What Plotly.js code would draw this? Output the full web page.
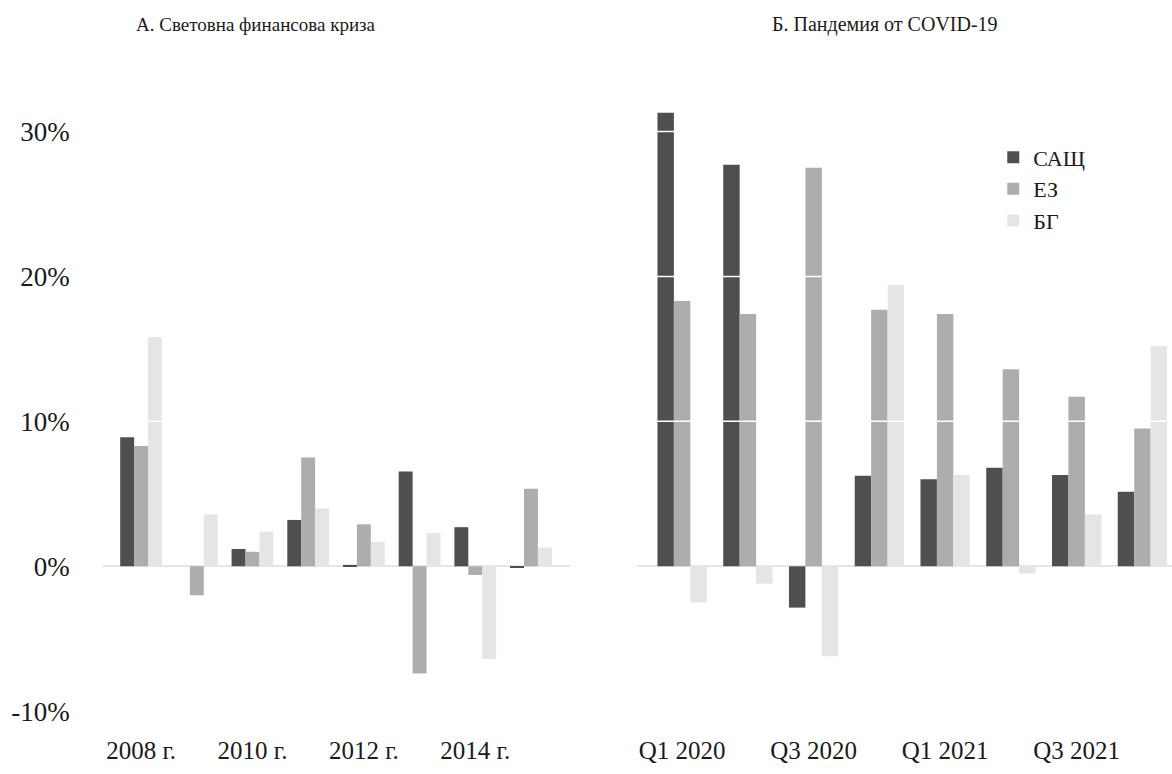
<!DOCTYPE html>
<html>
<head>
<meta charset="utf-8">
<script src="https://cdn.plot.ly/plotly-3.0.1.min.js"></script>
<style>html,body{margin:0;padding:0;background:#fff;}#chart{width:1172px;height:774px;}</style>
</head>
<body>
<div id="chart"></div>
<script>
// ---- Data ----
const seriesNames = ['САЩ', 'ЕЗ', 'БГ'];
const seriesColors = ['#4f4f4f', '#adadad', '#e5e5e5'];

const crisisYears = ['2008 г.', '2009 г.', '2010 г.', '2011 г.', '2012 г.', '2013 г.', '2014 г.', '2015 г.'];
const crisisUS = [8.9, 0, 1.2, 3.2, 0.1, 6.55, 2.7, -0.1];
const crisisEZ = [8.3, -2.0, 1.0, 7.5, 2.9, -7.4, -0.6, 5.35];
const crisisBG = [15.8, 3.6, 2.4, 4.0, 1.7, 2.3, -6.4, 1.3];

const covidQuarters = ['Q1 2020', 'Q2 2020', 'Q3 2020', 'Q4 2020', 'Q1 2021', 'Q2 2021', 'Q3 2021', 'Q4 2021'];
const covidUS = [31.3, 27.7, -2.85, 6.25, 6.0, 6.8, 6.3, 5.15];
const covidEZ = [18.3, 17.4, 27.5, 17.7, 17.4, 13.6, 11.7, 9.5];
const covidBG = [-2.5, -1.2, -6.2, 19.4, 6.3, -0.5, 3.6, 15.2];

const yTickVals = [-10, 0, 10, 20, 30];
const yTickText = ['-10%', '0%', '10%', '20%', '30%'];
const whiteGridVals = [10, 20, 30];

const panelTitles = ['А. Световна финансова криза', 'Б. Пандемия от COVID-19'];

// ---- Traces ----
const crisisSeries = [crisisUS, crisisEZ, crisisBG];
const covidSeries = [covidUS, covidEZ, covidBG];
const traces = [];
seriesNames.forEach((name, i) => {
  traces.push({
    type: 'bar', name: name, x: crisisYears, y: crisisSeries[i],
    xaxis: 'x', yaxis: 'y', marker: {color: seriesColors[i], line: {width: 0}},
    showlegend: false, hoverinfo: 'x+y+name'
  });
});
seriesNames.forEach((name, i) => {
  traces.push({
    type: 'bar', name: name, x: covidQuarters, y: covidSeries[i],
    xaxis: 'x2', yaxis: 'y2', marker: {color: seriesColors[i], line: {width: 0}},
    showlegend: true, hoverinfo: 'x+y+name'
  });
});

const FONT = 'Liberation Serif, Times New Roman, serif';
const yRange = [-11.5, 33];

const shapes = [];
['x', 'x2'].forEach((xa, k) => {
  const ya = k === 0 ? 'y' : 'y2';
  whiteGridVals.forEach(v => {
    shapes.push({type: 'line', layer: 'above', xref: xa + ' domain', yref: ya,
      x0: 0, x1: 1, y0: v, y1: v, line: {color: '#ffffff', width: 1.5}});
  });
});

const commonX = {
  type: 'category', showgrid: false, showline: false, zeroline: false,
  ticks: '', tickfont: {family: FONT, size: 25, color: '#1a1a1a'},
  ticklabelstandoff: 0, fixedrange: true
};
const commonY = {
  range: yRange, showgrid: false, showline: false,
  zeroline: true, zerolinecolor: '#e6e6e6', zerolinewidth: 2,
  tickmode: 'array', tickvals: yTickVals, ticktext: yTickText,
  ticks: '', fixedrange: true
};

const layout = {
  width: 1172, height: 774,
  margin: {l: 0, r: 0, t: 88, b: 41},
  paper_bgcolor: '#ffffff', plot_bgcolor: '#ffffff',
  barmode: 'group', bargap: 0.25, bargroupgap: 0,
  font: {family: FONT, color: '#1a1a1a'},
  xaxis: Object.assign({}, commonX, {
    domain: [0.0876, 0.4863], anchor: 'y', range: [-0.69, 7.70],
    tickmode: 'array', tickvals: crisisYears.filter((c, i) => i % 2 === 0)
  }),
  xaxis2: Object.assign({}, commonX, {
    domain: [0.5433, 1], anchor: 'y2', range: [-0.69, 7.45],
    tickmode: 'array', tickvals: covidQuarters.filter((c, i) => i % 2 === 0)
  }),
  yaxis: Object.assign({}, commonY, {
    anchor: 'x', showticklabels: true,
    tickfont: {family: FONT, size: 27, color: '#1a1a1a'}, ticklabelstandoff: 32
  }),
  yaxis2: Object.assign({}, commonY, {anchor: 'x2', showticklabels: false}),
  legend: {
    x: 0.8475, xanchor: 'left', y: 0.925, yanchor: 'top',
    font: {family: FONT, size: 22, color: '#1a1a1a'},
    bgcolor: 'rgba(0,0,0,0)', borderwidth: 0, tracegroupgap: 0
  },
  shapes: shapes,
  annotations: [
    {text: panelTitles[0], xref: 'paper', yref: 'paper', x: 256 / 1172, y: 1.098,
     xanchor: 'center', yanchor: 'middle', showarrow: false,
     font: {family: FONT, size: 19, color: '#1a1a1a'}},
    {text: panelTitles[1], xref: 'paper', yref: 'paper', x: 885 / 1172, y: 1.098,
     xanchor: 'center', yanchor: 'middle', showarrow: false,
     font: {family: FONT, size: 20, color: '#1a1a1a'}}
  ]
};

Plotly.newPlot('chart', traces, layout, {displayModeBar: false, staticPlot: false});
</script>
</body>
</html>
